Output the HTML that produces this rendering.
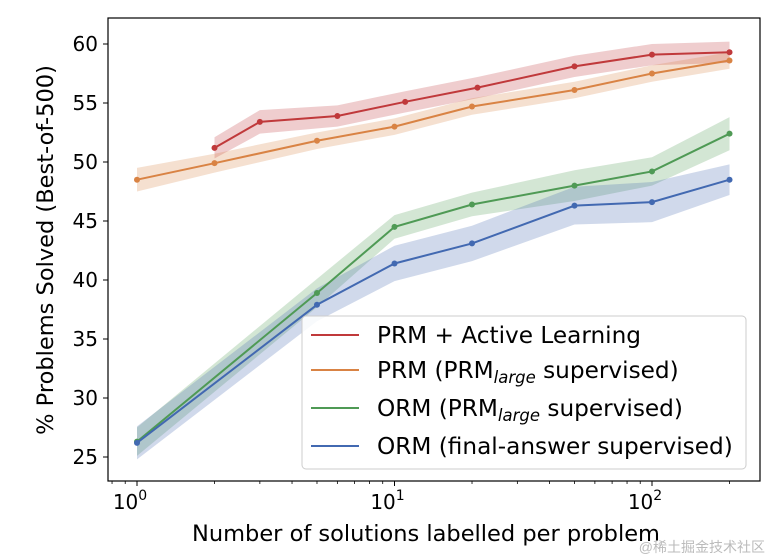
<!DOCTYPE html>
<html><head><meta charset="utf-8"><style>
body{margin:0;background:#fff;}
svg{display:block;font-family:"DejaVu Sans","Liberation Sans",sans-serif;}
</style></head><body>
<svg id="chart" width="782" height="558">
<g id="bands"></g><g id="lines"></g><g id="axes"></g>
<text x="426" y="541" font-size="22.5" text-anchor="middle" fill="#000">Number of solutions labelled per problem</text>
<text transform="translate(53,250) rotate(-90)" font-size="22.5" text-anchor="middle" fill="#000">% Problems Solved (Best-of-500)</text>
<g>
<rect x="302" y="316" width="444" height="153" rx="4" fill="#fff" fill-opacity="0.85" stroke="#ccc"/>
<g font-size="23.2" fill="#000">
<line x1="311" y1="335" x2="359" y2="335" stroke="#c0393b" stroke-width="2"/>
<text x="377" y="343">PRM + Active Learning</text>
<line x1="311" y1="370" x2="359" y2="370" stroke="#d98344" stroke-width="2"/>
<text x="377" y="378">PRM (PRM<tspan font-style="italic" font-size="16.5" dy="5">large</tspan><tspan dy="-5"> supervised)</tspan></text>
<line x1="311" y1="408" x2="359" y2="408" stroke="#4f9a55" stroke-width="2"/>
<text x="377" y="416">ORM (PRM<tspan font-style="italic" font-size="16.5" dy="5">large</tspan><tspan dy="-5"> supervised)</tspan></text>
<line x1="311" y1="446" x2="359" y2="446" stroke="#4269b1" stroke-width="2"/>
<text x="377" y="454">ORM (final-answer supervised)</text>
</g></g>
<text x="765" y="552" font-size="14" fill="#bbb" text-anchor="end" font-family="'Liberation Sans','Noto Sans CJK SC',sans-serif">@稀土掘金技术社区</text>
</svg>
<script>
const redX=[2,3,6,11,21,50,100,200];
const redY=[51.2,53.4,53.9,55.1,56.3,58.1,59.1,59.3];
const redErr=[0.9,1.0,0.9,0.9,0.9,0.9,0.9,0.9];
const orangeX=[1,2,5,10,20,50,100,200];
const orangeY=[48.5,49.9,51.8,53.0,54.7,56.1,57.5,58.6];
const orangeErr=[1.0,0.8,0.7,0.7,0.7,0.7,0.7,0.7];
const greenX=[1,5,10,20,50,100,200];
const greenY=[26.3,38.9,44.5,46.4,48.0,49.2,52.4];
const greenErr=[1.2,1.2,1.0,1.0,1.3,1.2,1.4];
const blueX=[1,5,10,20,50,100,200];
const blueY=[26.2,37.9,41.4,43.1,46.3,46.6,48.5];
const blueErr=[1.4,1.4,1.5,1.5,1.6,1.7,1.3];
const yTicks=[25,30,35,40,45,50,55,60];
const xTicks=[1,10,100];
const xTickLabels=['0','1','2'];

const NS='http://www.w3.org/2000/svg';
const L=108,R=760,T=18,B=481;
const xs=v=>137+Math.log10(v)*257.5;
const ys=v=>457-(v-25)*(413/35);
function mk(tag,attrs,parent){const e=document.createElementNS(NS,tag);for(const k in attrs)e.setAttribute(k,attrs[k]);parent.appendChild(e);return e;}
const bands=document.getElementById('bands'),lines=document.getElementById('lines'),axes=document.getElementById('axes');
const series=[
 {n:'prm-al',x:redX,y:redY,e:redErr,c:'#c0393b'},
 {n:'prm',x:orangeX,y:orangeY,e:orangeErr,c:'#d98344'},
 {n:'orm-prm',x:greenX,y:greenY,e:greenErr,c:'#4f9a55'},
 {n:'orm-final',x:blueX,y:blueY,e:blueErr,c:'#4269b1'}];
series.forEach(s=>{
 const up=s.x.map((v,i)=>xs(v)+','+ys(s.y[i]+s.e[i]));
 const dn=s.x.map((v,i)=>xs(v)+','+ys(s.y[i]-s.e[i])).reverse();
 const b=mk('polygon',{points:up.concat(dn).join(' '),fill:s.c,'fill-opacity':0.25},bands);
 
 
 const l=mk('polyline',{points:s.x.map((v,i)=>xs(v)+','+ys(s.y[i])).join(' '),fill:'none',stroke:s.c,'stroke-width':2},lines);
 
 
 s.x.forEach((v,i)=>{
  const p=mk('circle',{cx:xs(v),cy:ys(s.y[i]),r:3,fill:s.c},lines);
  
  
 });
});
const frame=mk('rect',{x:L,y:T,width:R-L,height:B-T,fill:'none',stroke:'#000','stroke-width':1.2},axes);


yTicks.forEach(t=>{
 const y=ys(t);
 mk('line',{x1:L-5,y1:y,x2:L,y2:y,stroke:'#000'},axes);
 const tx=mk('text',{x:L-10,y:y+7,'font-size':20,'text-anchor':'end'},axes);
 tx.textContent=t;
 
 
});
xTicks.forEach((t,i)=>{
 const x=xs(t);
 mk('line',{x1:x,y1:B,x2:x,y2:B+5,stroke:'#000'},axes);
 const tx=mk('text',{x:x-7,y:B+28,'font-size':20,'text-anchor':'middle'},axes);
 tx.innerHTML='10<tspan font-size="14" dy="-9">'+xTickLabels[i]+'</tspan>';
 
 
});
for(let d=0.1;d<=100;d*=10){for(let k=2;k<=9;k++){const v=d*k;const x=xs(v);if(x>L&&x<R)mk('line',{x1:x,y1:B,x2:x,y2:B+3,stroke:'#000','stroke-width':0.8},axes);}}
</script>
</body></html>
